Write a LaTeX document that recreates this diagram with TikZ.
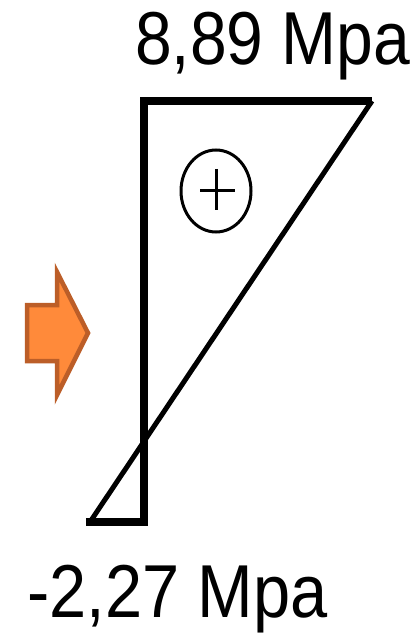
\documentclass[tikz,border=0pt]{standalone}
\usepackage{fontspec}
\setmainfont{Liberation Sans}
\usetikzlibrary{shapes.geometric}
\definecolor{arrfill}{HTML}{FF8A3A}
\definecolor{arrdraw}{HTML}{BC5E28}
\tikzset{
  valtext/.style={inner sep=0pt, anchor=base west, font=\fontsize{75}{80}\selectfont},
  thickline/.style={line width=8.5pt, line cap=rect},
}
\begin{document}
\begin{tikzpicture}[x=1pt,y=-1pt]
\useasboundingbox (0,0) rectangle (416,636);
\coordinate (top) at (144,101);
\coordinate (bot) at (144,522);
\coordinate (tr) at (372,101);
\coordinate (bl) at (90,522);
% diagram
\draw[line width=5pt] (tr) -- (bl);
\draw[line width=7.5pt] (top) -- (tr);
\draw[thickline] (bl) -- (bot);
\draw[thickline] (top) -- (bot);
% plus sign
\node[draw, line width=3pt, ellipse, minimum width=70pt, minimum height=82pt, inner sep=0pt] (plus) at (216,191) {};
\draw[line width=3pt] (200,191) -- (235,191);
\draw[line width=3pt] (216,169) -- (216,210);
% arrow
\draw[fill=arrfill, draw=arrdraw, line width=4.5pt, line join=miter]
  (27,305) -- (57,305) -- (57,272) -- (88,333) -- (57,395) -- (57,361) -- (27,361) -- cycle;
% labels
\node[valtext] (t1) at (135,65) {\scalebox{0.88}[1]{8,89 Mpa}};
\node[valtext] (t2) at (27,617) {\scalebox{0.89}[1]{-2,27 Mpa}};
\end{tikzpicture}
\end{document}
